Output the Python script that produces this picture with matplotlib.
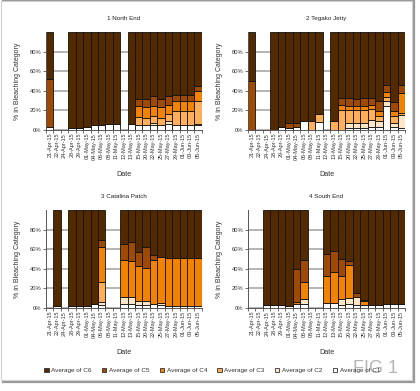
import numpy as np
import matplotlib.pyplot as plt
from matplotlib.patches import Rectangle

plt.rcParams["font.family"] = ["Liberation Sans", "DejaVu Sans"]

N = None  # no survey for that site on that date

DATES = ["21-Apr-15", "22-Apr-15", "24-Apr-15", "28-Apr-15", "29-Apr-15",
         "01-May-15", "04-May-15", "06-May-15", "08-May-15", "11-May-15",
         "12-May-15", "13-May-15", "15-May-15", "20-May-15", "22-May-15",
         "25-May-15", "27-May-15", "29-May-15", "01-Jun-15", "03-Jun-15",
         "05-Jun-15"]
CATEGORIES = ["C1", "C2", "C3", "C4", "C5", "C6"]
COLORS = {"C1": "#ffffff", "C2": "#ffe6c8", "C3": "#ffae5a",
          "C4": "#f28300", "C5": "#9e4a04", "C6": "#532900"}

# 1 North End
north_c1 = [3, N, N, 2, 2, 3, 5, 5, 6, 6, N, 6, 5, 5, 5, 5, 6, 5, 5, 5, 5]
north_c2 = [0, N, N, 0, 0, 0, 0, 0, 0, 0, N, 0, 0, 0, 2.5, 0, 3, 0, 0, 0, 1.5]
north_c3 = [0, N, N, 0, 0, 0, 0, 0, 0, 0, N, 0, 8, 7, 6.5, 7, 7, 14, 14, 14, 23.5]
north_c4 = [0, N, N, 0, 0, 0, 0, 0, 0, 0, N, 0, 11, 11, 10.5, 11, 10, 11, 11, 11, 10]
north_c5 = [49, N, N, 0, 0, 0, 0, 0, 0, 0, N, 0, 8, 9, 10, 9, 9, 6, 6, 6, 5]
north_c6 = [48, N, N, 98, 98, 97, 95, 95, 94, 94, N, 94, 68, 68, 65.5, 68, 65, 64, 64, 64, 55]

# 2 Tegako Jetty
tegako_c1 = [0, N, N, 0, 3, 2.5, 3, 9, 0, 8, N, 0, 0, 2, 2, 2, 3, 3, 24, 3, 2]
tegako_c2 = [0, N, N, 0, 0, 0, 0, 0, 0, 0, N, 0, 0, 5, 5, 5, 7, 6.5, 6, 4, 13]
tegako_c3 = [0, N, N, 0, 0, 0, 0, 0, 9, 8, N, 9, 20, 13, 13, 13, 11, 4.5, 4, 7, 2]
tegako_c4 = [0, N, N, 0, 0, 0, 0, 0, 0, 0, N, 0, 6, 4.5, 4.5, 4.5, 5, 5, 5, 5, 21]
tegako_c5 = [50, N, N, 0, 0, 5, 4.5, 0, 0, 0, N, 0, 7, 8, 7.5, 8.5, 7, 11, 7, 10, 7.5]
tegako_c6 = [50, N, N, 100, 97, 92.5, 92.5, 91, 91, 84, N, 91, 67, 67.5, 68, 67, 67, 70, 54, 71, 54.5]

# 3 Catalina Patch
catalina_c1 = [N, 2, N, 2, 2, 2.5, 4, 3, N, N, 4, 4, 3.5, 3.5, 4, 3, 2, 2, 2, 2, 2]
catalina_c2 = [N, 0, N, 0, 0, 0, 0, 3.5, N, N, 7, 7, 3.5, 3.5, 0, 2, 0, 0, 0, 0, 0]
catalina_c3 = [N, 0, N, 0, 0, 0, 0, 20.5, N, N, 0, 0, 0, 0, 0, 0, 0, 0, 0, 0, 0]
catalina_c4 = [N, 0, N, 0, 0, 0, 0, 35, N, N, 38, 36.5, 35.5, 34, 45, 47.5, 49, 49, 49, 49, 49]
catalina_c5 = [N, 0, N, 0, 0, 0, 0, 7, N, N, 16, 19.5, 14.5, 21, 5, 0, 0, 0, 0, 0, 0]
catalina_c6 = [N, 98, N, 98, 98, 97.5, 96, 31, N, N, 35, 33, 43, 38, 46, 47.5, 49, 49, 49, 49, 49]

# 4 South End
south_c1 = [N, N, 3.5, 3.5, 3, 2.5, 4.5, 4, N, N, 5, 5, 3, 4, 3, 3, 3.5, 3.5, 4, 4, 4]
south_c2 = [N, N, 0, 0, 0, 0, 0, 5, N, N, 0, 0, 6, 6, 8, 0, 0, 0, 0, 0, 0]
south_c3 = [N, N, 0, 0, 0, 0, 0, 0, N, N, 0, 0, 0, 0, 0, 0, 0, 0, 0, 0, 0]
south_c4 = [N, N, 0, 0, 0, 0, 2, 18, N, N, 28, 32, 24, 34, 0, 4, 0, 0, 0, 0, 0]
south_c5 = [N, N, 0, 0, 0, 0, 33.5, 21.5, N, N, 22, 21, 17, 3.5, 4, 1.5, 0, 0, 0, 0, 0]
south_c6 = [N, N, 96.5, 96.5, 97, 97.5, 60, 51.5, N, N, 45, 42, 50, 52.5, 85, 91.5, 96.5, 96.5, 96, 96, 96]


def plot_panel(ax, title, stacks):
    x = np.arange(len(DATES))
    bottom = np.zeros(len(DATES))
    for cat, vals in zip(CATEGORIES, stacks):
        v = np.array(vals, dtype=float)
        ok = ~np.isnan(v) & (v > 0)
        ax.bar(x[ok], v[ok], bottom=bottom[ok], width=1.0, color=COLORS[cat],
               edgecolor="#111111", linewidth=0.6, zorder=2)
        bottom[ok] += v[ok]

    ax.set_xlim(-0.5, len(DATES) - 0.5)
    ax.set_ylim(0, 100)
    ax.set_yticks([0, 20, 40, 60, 80])
    ax.set_yticklabels([f"{t}%" for t in [0, 20, 40, 60, 80]], fontsize=4.2, color="#333333")
    ax.set_xticks(x)
    ax.set_xticklabels(DATES, rotation=90, fontsize=4, color="#333333")
    ax.set_xticks(np.arange(-0.5, len(DATES)), minor=True)
    ax.tick_params(axis="x", which="major", length=0, pad=2)
    ax.tick_params(axis="x", which="minor", length=2, width=0.6, color="#555555")
    ax.tick_params(axis="y", length=2.5, width=0.6, color="#555555", pad=1)
    ax.grid(axis="y", color="#a0a0a0", linewidth=1.1, zorder=0)
    ax.set_axisbelow(True)
    for side in ("top", "right"):
        ax.spines[side].set_visible(False)
    for side in ("left", "bottom"):
        ax.spines[side].set_linewidth(0.7)
        ax.spines[side].set_color("#555555")
    ax.set_title(title, fontsize=4.5, pad=9, color="#222222")
    ax.set_xlabel("Date", fontsize=5.2, labelpad=8, color="#333333")
    ax.set_ylabel("% in Bleaching Category", fontsize=5, labelpad=6, color="#333333")


fig = plt.figure(figsize=(4.2, 3.91), dpi=100)

# screenshot frame with a soft shadow, behind everything
fig.patches.append(Rectangle((0.008, 0.022), 0.978, 0.976, transform=fig.transFigure,
                             fill=False, edgecolor="#999999", linewidth=1.6, zorder=-2))
fig.patches.append(Rectangle((0.003, 0.028), 0.978, 0.97, transform=fig.transFigure,
                             facecolor="white", edgecolor="#d0d0d0", linewidth=0.8, zorder=-1))

panels = [
    ([0.1095, 0.6675, 0.371, 0.2506], "1 North End",
     [north_c1, north_c2, north_c3, north_c4, north_c5, north_c6]),
    ([0.5905, 0.6675, 0.374, 0.2506], "2 Tegako Jetty",
     [tegako_c1, tegako_c2, tegako_c3, tegako_c4, tegako_c5, tegako_c6]),
    ([0.1095, 0.2123, 0.371, 0.2506], "3 Catalina Patch",
     [catalina_c1, catalina_c2, catalina_c3, catalina_c4, catalina_c5, catalina_c6]),
    ([0.5905, 0.2123, 0.374, 0.2506], "4 South End",
     [south_c1, south_c2, south_c3, south_c4, south_c5, south_c6]),
]
for rect, title, stacks in panels:
    ax = fig.add_axes(rect)
    ax.patch.set_alpha(0)
    plot_panel(ax, title, stacks)

handles = [Rectangle((0, 0), 1, 1, facecolor=COLORS[c], edgecolor="#333333", linewidth=0.6)
           for c in CATEGORIES[::-1]]
labels = [f"Average of {c}" for c in CATEGORIES[::-1]]
fig.legend(handles, labels, loc="center", bbox_to_anchor=(0.505, 0.052), ncol=6,
           fontsize=4.6, frameon=False, handlelength=0.7, handleheight=0.7,
           handletextpad=0.4, columnspacing=1.6, labelcolor="#333333")

fig.text(0.895, 0.058, "FIG 1", fontsize=13, color="#b5b5b5", ha="center", va="center")

fig.savefig("out.png", dpi=100)
